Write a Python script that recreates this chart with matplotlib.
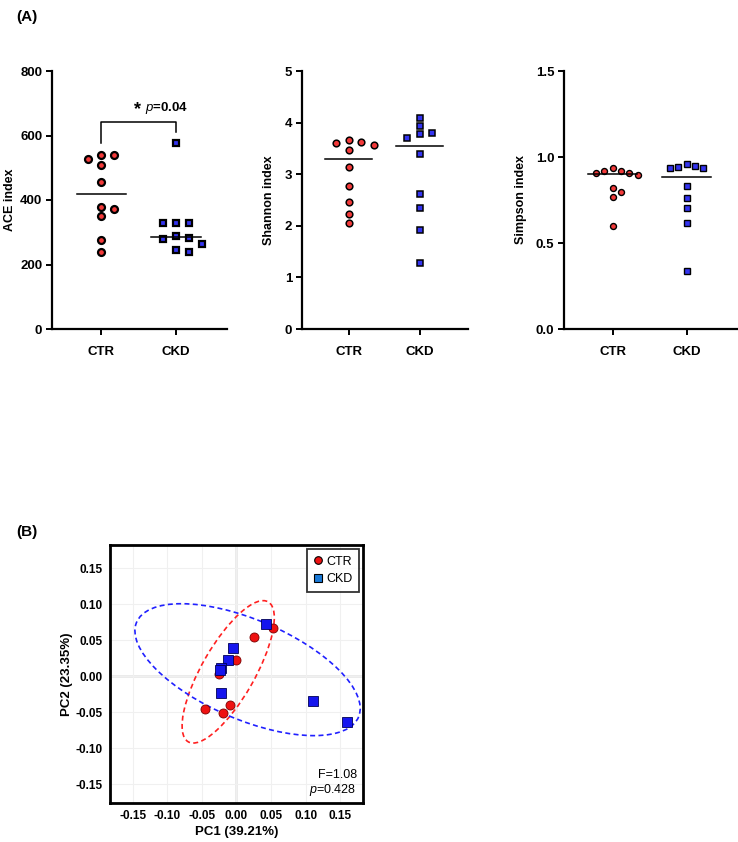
import numpy as np
import matplotlib
matplotlib.use("Agg")
import matplotlib.pyplot as plt
from matplotlib.patches import Ellipse
from matplotlib.lines import Line2D

plt.rcParams['font.family'] = ['Liberation Sans', 'DejaVu Sans']
plt.rcParams['mathtext.fontset'] = 'custom'
plt.rcParams['mathtext.it'] = 'Liberation Sans:italic'
plt.rcParams['mathtext.rm'] = 'Liberation Sans'

groups = ['CTR', 'CKD']

ace_ctr = [539, 539, 526, 510, 457, 379, 372, 351, 276, 239]
ace_ckd = [578, 330, 328, 328, 289, 282, 280, 264, 245, 238]
shannon_ctr = [3.66, 3.62, 3.61, 3.56, 3.46, 3.13, 2.78, 2.47, 2.23, 2.05]
shannon_ckd = [4.09, 3.93, 3.80, 3.77, 3.71, 3.40, 2.62, 2.34, 1.92, 1.27]
simpson_ctr = [0.934, 0.920, 0.916, 0.905, 0.905, 0.897, 0.818, 0.795, 0.770, 0.596]
simpson_ckd = [0.959, 0.949, 0.939, 0.938, 0.936, 0.831, 0.760, 0.702, 0.619, 0.340]

# PCoA scores
pc1_ctr = [-0.045, -0.020, -0.010, -0.025, 0.000, 0.025, 0.053]
pc2_ctr = [-0.046, -0.051, -0.040, 0.003, 0.022, 0.054, 0.067]
pc1_ckd = [0.043, -0.005, -0.013, -0.022, -0.024, -0.022, 0.110, 0.160]
pc2_ckd = [0.072, 0.039, 0.022, 0.012, 0.008, -0.024, -0.034, -0.063]

RED = '#f23a3a'
BLUE = '#3434f0'

W, H = 738, 842
fig = plt.figure(figsize=(W / 100, H / 100), dpi=100)


def px_axes(l, t, r, b):
    return fig.add_axes([l / W, 1 - b / H, (r - l) / W, (b - t) / H])


def swarm_offsets(vals, px_per_y, px_per_x, step, thresh):
    vals = np.asarray(vals, float)
    order = np.argsort(-vals, kind='stable')
    placed = []
    offs = np.zeros(len(vals))
    for i in order:
        y = vals[i] * px_per_y
        for k in [0, 1, -1, 2, -2, 3, -3, 4, -4]:
            x = k * step
            if all((x - px) ** 2 + (y - py) ** 2 >= thresh ** 2 for px, py in placed):
                break
        placed.append((x, y))
        offs[i] = x / px_per_x
    return offs


def dot_panel(ax, ctr, ckd, ymax, yticks, ylabel, ms, mew, step, thresh, fmt, labx):
    ax_h = ax.get_position().height * H
    ax_w = ax.get_position().width * W
    xlim = (-0.66, 1.68)
    px_per_x = ax_w / (xlim[1] - xlim[0])
    px_per_y = ax_h / ymax
    for pos, vals, mk, col in [(0, ctr, 'o', RED), (1, ckd, 's', BLUE)]:
        off = swarm_offsets(vals, px_per_y, px_per_x, step, thresh)
        ax.plot(pos + off, vals, ls='none', marker=mk, ms=ms, mfc=col,
                mec='black', mew=mew, zorder=3, clip_on=False)
        med = np.median(vals)
        ax.plot([pos - 0.33, pos + 0.33], [med, med], color='black', lw=1.1, zorder=4)
    ax.set_xlim(*xlim)
    ax.set_ylim(0, ymax)
    ax.set_xticks([0, 1])
    ax.set_xticklabels(groups, fontsize=9.5, fontweight='bold')
    ax.set_yticks(yticks)
    ax.set_yticklabels([fmt.format(v) for v in yticks], fontsize=9.5, fontweight='bold')
    ax.set_ylabel(ylabel, fontsize=9, fontweight='bold')
    ax.yaxis.set_label_coords(labx, 0.5)
    for s in ['top', 'right']:
        ax.spines[s].set_visible(False)
    for s in ['left', 'bottom']:
        ax.spines[s].set_linewidth(1.6)
    ax.tick_params(width=1.4, length=4, pad=3)
    ax.tick_params(axis='x', pad=8)


ax1 = px_axes(52, 71, 227, 329)
dot_panel(ax1, ace_ctr, ace_ckd, 800, [0, 200, 400, 600, 800], 'ACE index',
          5.0, 1.6, 13, 9, '{:.0f}', -0.205)
ax1.plot([0, 0, 1, 1], [577, 642, 642, 611], color='black', lw=1.1)
ax1.text(0.44, 680, '*', ha='left', va='center', fontsize=13, fontweight='bold')
ax1.text(0.58, 685, r'$p$=0.04', ha='left', va='center',
         fontsize=9.5, fontweight='bold')

ax2 = px_axes(302, 71, 468, 329)
dot_panel(ax2, shannon_ctr, shannon_ckd, 5, [0, 1, 2, 3, 4, 5], 'Shannon index',
          4.8, 1.1, 12.5, 8, '{:.0f}', -0.163)

ax3 = px_axes(564, 71, 737, 329)
dot_panel(ax3, simpson_ctr, simpson_ckd, 1.5, [0.0, 0.5, 1.0, 1.5], 'Simpson index',
          4.3, 1.0, 8.3, 7, '{:.1f}', -0.214)

fig.text(16 / W, 1 - 17 / H, '(A)', fontsize=11, fontweight='bold', va='center')
fig.text(16 / W, 1 - 532 / H, '(B)', fontsize=11, fontweight='bold', va='center')

# Panel B: PCoA
axb = px_axes(110, 545, 363, 803)
axb.set_xlim(-0.183, 0.183)
axb.set_ylim(-0.176, 0.182)
ticks = [-0.15, -0.10, -0.05, 0.00, 0.05, 0.10, 0.15]
axb.set_xticks(ticks)
axb.set_yticks(ticks)
axb.set_xticklabels(['{:.2f}'.format(t) for t in ticks], fontsize=8.5, fontweight='bold')
axb.set_yticklabels(['{:.2f}'.format(t) for t in ticks], fontsize=8.5, fontweight='bold')
axb.tick_params(length=0, pad=5)
axb.grid(True, color='#f0f0f0', lw=0.8, zorder=0)
axb.axhline(0, color='#999999', lw=1.0, zorder=1)
axb.axvline(0, color='#999999', lw=1.0, zorder=1)
for s in axb.spines.values():
    s.set_linewidth(2.0)

axb.add_patch(Ellipse((-0.012, 0.006), 0.226, 0.076, angle=59, fill=False,
                      ec='#ff2020', ls=(0, (3, 2)), lw=1.2, zorder=2))
axb.add_patch(Ellipse((0.016, 0.009), 0.347, 0.139, angle=-22, fill=False,
                      ec='#2020ff', ls=(0, (3, 2)), lw=1.2, zorder=2))

axb.plot(pc1_ctr, pc2_ctr, ls='none', marker='o', ms=6.5, mfc='#ee1111',
         mec='#7a0000', mew=0.6, zorder=3)
axb.plot(pc1_ckd, pc2_ckd, ls='none', marker='s', ms=6.5, mfc='#1515ee',
         mec='#000055', mew=0.6, zorder=4)

axb.set_xlabel('PC1 (39.21%)', fontsize=9.5, fontweight='bold', labelpad=3)
axb.set_ylabel('PC2 (23.35%)', fontsize=9.5, fontweight='bold', labelpad=2)

handles = [Line2D([], [], ls='none', marker='o', ms=5.5, mfc='#ee1111', mec='black', mew=0.8),
           Line2D([], [], ls='none', marker='s', ms=5.5, mfc='#1a7ad8', mec='black', mew=0.8)]
leg = axb.legend(handles, groups, loc='upper right', fontsize=9, frameon=True,
                 fancybox=False, edgecolor='black', handlelength=0.6,
                 handletextpad=0.35, borderpad=0.55, labelspacing=0.45,
                 borderaxespad=0.3)
leg.get_frame().set_linewidth(1.3)

axb.text(0.975, 0.085, 'F=1.08', transform=axb.transAxes, ha='right', va='bottom',
         fontsize=9)
axb.text(0.975, 0.02, r'$p$=0.428', transform=axb.transAxes, ha='right', va='bottom',
         fontsize=9)

fig.savefig('out.png', dpi=100)
